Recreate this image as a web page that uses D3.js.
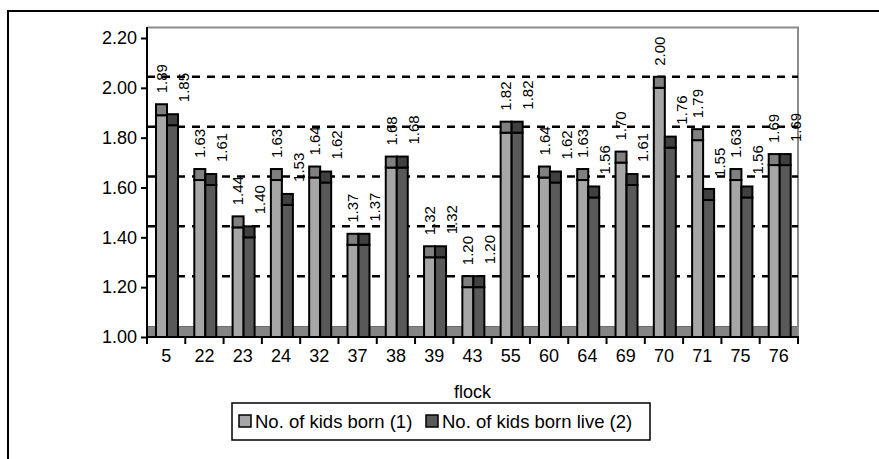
<!DOCTYPE html>
<html>
<head>
<meta charset="utf-8">
<script src="https://cdn.jsdelivr.net/npm/d3@7/dist/d3.min.js"></script>
<style>
  html, body { margin: 0; padding: 0; background: #fff; }
  svg { display: block; }
  text { font-family: "Liberation Sans", Arial, sans-serif; fill: #000; }
</style>
</head>
<body>
<svg id="chart" width="879" height="459"></svg>
<script>
// ---- data ----
const categories = ["5","22","23","24","32","37","38","39","43","55","60","64","69","70","71","75","76"];
const seriesNames = ["No. of kids born (1)", "No. of kids born live (2)"];
const kidsBorn     = [1.89,1.63,1.44,1.63,1.64,1.37,1.68,1.32,1.20,1.82,1.64,1.63,1.70,2.00,1.79,1.63,1.69];
const kidsBornLive = [1.85,1.61,1.40,1.53,1.62,1.37,1.68,1.32,1.20,1.82,1.62,1.56,1.61,1.76,1.55,1.56,1.69];
const yTicks = [1.00,1.20,1.40,1.60,1.80,2.00,2.20];
const gridValues = [1.20,1.40,1.60,1.80,2.00];

// ---- layout ----
const svg = d3.select("#chart");
const L = 147, R = 798, B = 337, T = 38;
const depth = 11;
const frontColors = ["#a6a6a6", "#595959"];
const capColors = ["#808080", "#404040"];

// outer frame (cut by the window on right and bottom)
svg.append("rect").attr("x", 8).attr("y", 11).attr("width", 1000).attr("height", 1000)
  .attr("fill", "none").attr("stroke", "#000").attr("stroke-width", 2);

const x = d3.scaleBand().domain(categories).range([L, R]).padding(0);
const bw = x.bandwidth();
const xs = d3.scaleBand().domain([0, 1]).range([bw * 9 / 38.3, bw * 31 / 38.3]).padding(0);
const y = d3.scaleLinear().domain([1.0, 2.2]).range([B, T]);

// floor
svg.append("rect").attr("x", L).attr("y", B - depth).attr("width", R - L).attr("height", depth)
  .attr("fill", "#858585");
svg.append("line").attr("x1", L).attr("x2", R).attr("y1", B - depth + 0.5).attr("y2", B - depth + 0.5)
  .attr("stroke", "#6e6e6e").attr("stroke-width", 1);

// back wall border (top & right)
svg.append("path")
  .attr("d", `M${L},${y(2.2) - depth + 0.5}H${R}V${B}`)
  .attr("fill", "none").attr("stroke", "#8c8c8c").attr("stroke-width", 2);

// gridlines on back wall
svg.append("g").selectAll("line").data(gridValues).join("line")
  .attr("x1", L).attr("x2", R)
  .attr("y1", d => y(d) - depth).attr("y2", d => y(d) - depth)
  .attr("stroke", "#000").attr("stroke-width", 2.5).attr("stroke-dasharray", "8,7");

// bars
const rows = categories.map((c, i) => ({ c, vals: [kidsBorn[i], kidsBornLive[i]] }));
const grp = svg.append("g").selectAll("g").data(rows).join("g")
  .attr("transform", d => `translate(${x(d.c)},0)`);
[0, 1].forEach(s => {
  grp.append("rect")
    .attr("x", xs(s)).attr("width", xs.bandwidth())
    .attr("y", d => y(d.vals[s])).attr("height", d => B - y(d.vals[s]))
    .attr("fill", frontColors[s]).attr("stroke", "#000").attr("stroke-width", 2);
  grp.append("rect")
    .attr("x", xs(s)).attr("width", xs.bandwidth())
    .attr("y", d => y(d.vals[s]) - depth).attr("height", depth)
    .attr("fill", capColors[s]).attr("stroke", "#000").attr("stroke-width", 2);
});

// data labels
const labelShift = [0, 11], labelGap = [22, 23];
[0, 1].forEach(s => {
  grp.append("text")
    .attr("transform", d => {
      const lx = xs(s) + xs.bandwidth() / 2 + labelShift[s];
      const ly = y(d.vals[s]) - labelGap[s];
      return `translate(${lx},${ly}) rotate(-90)`;
    })
    .attr("dy", "0.35em")
    .attr("text-anchor", "start")
    .style("font-size", "15px")
    .text(d => d3.format(".2f")(d.vals[s]));
});

// y axis
const yAxis = d3.axisLeft(y).tickValues(yTicks).tickFormat(d3.format(".2f")).tickSize(6).tickPadding(4);
const ya = svg.append("g").attr("transform", `translate(${L},0)`).call(yAxis);
ya.select(".domain").remove();
ya.selectAll(".tick line").attr("stroke", "#000").attr("stroke-width", 2);
ya.selectAll(".tick text").style("font-size", "18px").attr("font-family", null);
svg.append("line").attr("x1", L).attr("x2", L).attr("y1", y(2.2) - depth).attr("y2", B + 1)
  .attr("stroke", "#000").attr("stroke-width", 2);

// x axis
const xAxis = d3.axisBottom(x).tickSize(0).tickPadding(12);
const xa = svg.append("g").attr("transform", `translate(0,${B})`).call(xAxis);
xa.select(".domain").remove();
xa.selectAll(".tick text").style("font-size", "18px").attr("font-family", null);
const boundaries = categories.map(c => x(c)).concat([R]);
svg.append("g").selectAll("line").data(boundaries).join("line")
  .attr("x1", d => d).attr("x2", d => d).attr("y1", B).attr("y2", B + 7)
  .attr("stroke", "#000").attr("stroke-width", 2);
svg.append("line").attr("x1", L - 1).attr("x2", R + 1).attr("y1", B).attr("y2", B)
  .attr("stroke", "#000").attr("stroke-width", 2);

// axis title
svg.append("text").attr("x", (L + R) / 2).attr("y", 398).attr("text-anchor", "middle")
  .style("font-size", "18px").text("flock");

// legend
const lg = svg.append("g");
lg.append("rect").attr("x", 232).attr("y", 403).attr("width", 418).attr("height", 37)
  .attr("fill", "#fff").attr("stroke", "#000").attr("stroke-width", 1.5);
const legendX = [239, 426];
seriesNames.forEach((n, s) => {
  lg.append("rect").attr("x", legendX[s]).attr("y", 415).attr("width", 12).attr("height", 12)
    .attr("fill", frontColors[s]).attr("stroke", "#000").attr("stroke-width", 1.5);
  lg.append("text").attr("x", legendX[s] + 16).attr("y", 428)
    .style("font-size", "18.5px").text(n);
});
</script>
</body>
</html>
